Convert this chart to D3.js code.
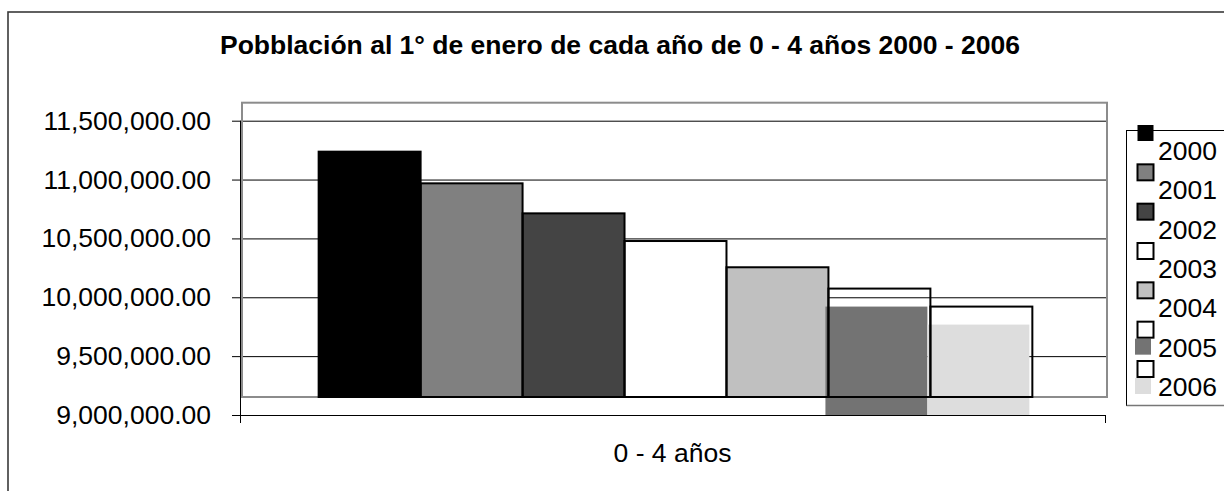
<!DOCTYPE html>
<html>
<head>
<meta charset="utf-8">
<script src="https://cdn.jsdelivr.net/npm/d3@7/dist/d3.min.js"></script>
<style>
  html, body { margin: 0; padding: 0; background: #fff; }
  svg { display: block; }
</style>
</head>
<body>
<svg id="chart" width="1224" height="491"></svg>
<script>
// ---- data ----
const title = "Pobblación al 1° de enero de cada año de 0 - 4 años 2000 - 2006";
const categories = ["0 - 4 años"];
const years = ["2000", "2001", "2002", "2003", "2004", "2005", "2006"];
const values = [11084000, 10815000, 10560000, 10325000, 10102000, 9921000, 9768000];
const yTicks = [9000000, 9500000, 10000000, 10500000, 11000000, 11500000];

// ---- styles ----
const fills = ["#000000", "#808080", "#444444", "#ffffff", "#c0c0c0", "#737373", "#dddddd"];
// the 2005/2006 fills are rendered in the un-shifted layer, the rest in the shifted one
const fillInShifted = [true, true, true, true, true, false, false];
const FONT = "'Liberation Sans', Arial, Helvetica, sans-serif";
const FS = 26.5;

const W = 1224, H = 491;
const plot = { left: 240, right: 1105, top: 120.7, bottom: 415 };
const shift = { dx: 3, dy: -18 };        // offset layer (outlined bars)
const boxShift = { dx: 2, dy: -18 };     // offset of the grey plot-area frame
const legendShift = { dx: 2.5, dy: -17 };

const svg = d3.select("#chart");
svg.append("rect").attr("width", W).attr("height", H).attr("fill", "#fff");

// outer chart border (runs off the right/bottom of the picture)
svg.append("rect")
  .attr("x", 8).attr("y", 12).attr("width", 1240).attr("height", 520)
  .attr("fill", "none").attr("stroke", "#3a3a3a").attr("stroke-width", 1.6);

// title
svg.append("text")
  .attr("x", 620).attr("y", 53.5)
  .attr("text-anchor", "middle")
  .attr("font-family", FONT).attr("font-size", FS).attr("font-weight", "bold")
  .attr("fill", "#000")
  .text(title);

// scales
const y = d3.scaleLinear().domain([9000000, 11500000]).range([plot.bottom, plot.top]);
const x0 = d3.scaleBand().domain(categories).range([plot.left, plot.right])
  .paddingInner(0).paddingOuter(0.106);
const x1 = d3.scaleBand().domain(years).range([0, x0.bandwidth()]).padding(0);

// y axis ticks + labels
const yAxis = svg.append("g")
  .attr("transform", `translate(${plot.left},0)`)
  .call(d3.axisLeft(y)
    .tickValues(yTicks)
    .tickSize(8)
    .tickSizeOuter(0)
    .tickPadding(21)
    .tickFormat(d3.format(",.2f")));
yAxis.select(".domain").remove();
yAxis.selectAll("text").attr("font-family", FONT).attr("font-size", FS).attr("fill", "#000");
yAxis.selectAll(".tick line").attr("stroke", "#000");

// gridlines
const grid = svg.append("g")
  .attr("transform", `translate(${plot.left},0)`)
  .call(d3.axisLeft(y).tickValues(yTicks).tickSize(-(plot.right - plot.left + 1)).tickFormat(""));
grid.select(".domain").remove();
grid.selectAll(".tick line").attr("stroke", "#000").attr("stroke-width", 1);

// grey plot-area frame (shifted layer)
svg.append("rect")
  .attr("x", plot.left + boxShift.dx)
  .attr("y", y(11500000) + boxShift.dy)
  .attr("width", plot.right - plot.left)
  .attr("height", y(9000000) - y(11500000))
  .attr("fill", "none").attr("stroke", "#8c8c8c").attr("stroke-width", 2);

const barData = years.map((yr, i) => ({ year: yr, value: values[i], i }));
const bx = d => x0(categories[0]) + x1(d.year);

// shifted-layer fills
svg.append("g").selectAll("rect")
  .data(barData.filter(d => fillInShifted[d.i]))
  .join("rect")
  .attr("x", d => bx(d) + shift.dx)
  .attr("y", d => y(d.value) + shift.dy)
  .attr("width", x1.bandwidth())
  .attr("height", d => y(9000000) - y(d.value))
  .attr("fill", d => fills[d.i]);

// un-shifted fills (2005, 2006)
svg.append("g").selectAll("rect")
  .data(barData.filter(d => !fillInShifted[d.i]))
  .join("rect")
  .attr("x", d => bx(d))
  .attr("y", d => y(d.value))
  .attr("width", x1.bandwidth())
  .attr("height", d => y(9000000) - y(d.value))
  .attr("fill", d => fills[d.i]);

// shifted-layer outlines
svg.append("g").selectAll("rect")
  .data(barData)
  .join("rect")
  .attr("x", d => bx(d) + shift.dx)
  .attr("y", d => y(d.value) + shift.dy)
  .attr("width", x1.bandwidth())
  .attr("height", d => y(9000000) - y(d.value))
  .attr("fill", "none")
  .attr("stroke", "#000").attr("stroke-width", 2);

// y axis line
svg.append("line")
  .attr("x1", plot.left + 0.5).attr("x2", plot.left + 0.5)
  .attr("y1", y(11500000)).attr("y2", y(9000000) + 8)
  .attr("stroke", "#000").attr("stroke-width", 1);

// x axis
const xAxis = svg.append("g")
  .attr("transform", `translate(0,${y(9000000)})`)
  .call(d3.axisBottom(x0).tickSize(0).tickPadding(28));
xAxis.select(".domain").remove();
xAxis.selectAll("text").attr("font-family", FONT).attr("font-size", FS).attr("fill", "#000");
svg.append("g").selectAll("line")
  .data([plot.right])
  .join("line")
  .attr("x1", d => d + 0.5).attr("x2", d => d + 0.5)
  .attr("y1", y(9000000)).attr("y2", y(9000000) + 8)
  .attr("stroke", "#000");

// legend
const ly = d3.scalePoint().domain(years).range([160, 396]);
const legend = svg.append("g");
legend.append("rect")
  .attr("x", 1126.5).attr("y", 130.5).attr("width", 130).attr("height", 275)
  .attr("fill", "#fff").attr("stroke", "#000").attr("stroke-width", 1);
legend.append("line")
  .attr("x1", 1126.5).attr("x2", 1224).attr("y1", 405.5).attr("y2", 405.5)
  .attr("stroke", "#777").attr("stroke-width", 1.5);

const sw = 16;
legend.selectAll("rect.sw0")
  .data(barData.filter(d => !fillInShifted[d.i]))
  .join("rect").attr("class", "sw0")
  .attr("x", 1135).attr("y", d => ly(d.year) - 18)
  .attr("width", sw).attr("height", sw)
  .attr("fill", d => fills[d.i]);
legend.selectAll("rect.sw1")
  .data(barData)
  .join("rect").attr("class", "sw1")
  .attr("x", 1135 + legendShift.dx).attr("y", d => ly(d.year) - 18 + legendShift.dy)
  .attr("width", sw).attr("height", sw)
  .attr("fill", d => fillInShifted[d.i] ? fills[d.i] : "#fff")
  .attr("stroke", "#000").attr("stroke-width", d => d.i === 0 ? 0 : 2);
legend.selectAll("text")
  .data(barData)
  .join("text")
  .attr("x", 1158).attr("y", d => ly(d.year))
  .attr("font-family", FONT).attr("font-size", FS).attr("fill", "#000")
  .text(d => d.year);
</script>
</body>
</html>
